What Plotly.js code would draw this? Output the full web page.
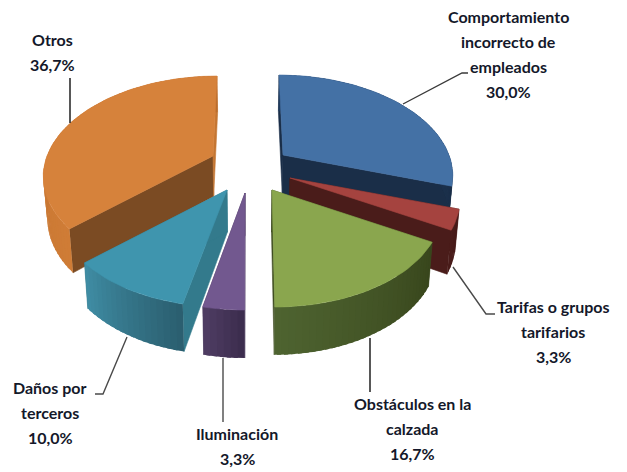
<!DOCTYPE html>
<html><head><meta charset="utf-8">
<script src="https://cdn.plot.ly/plotly-3.0.1.min.js"></script>
<style>html,body{margin:0;padding:0;background:#fff}#c{width:627px;height:472px}</style>
</head><body><div id="c"></div>
<script>
// Data
const categories = ["Comportamiento incorrecto de empleados","Tarifas o grupos tarifarios","Obstáculos en la calzada","Iluminación","Daños por terceros","Otros"];
const values = [30.0,3.3,16.7,3.3,10.0,36.7];
const labelLines = [["Comportamiento","incorrecto de","empleados"],["Tarifas o grupos","tarifarios"],["Obstáculos en la","calzada"],["Iluminación"],["Daños por","terceros"],["Otros"]];
// Styles
const topColors = ["#4471a5","#a5433f","#8aa64e","#72588f","#3f95ae","#d6823b"];
const cutStart = ["#1a2e48","#4a1c1a","#3f4d22","#46365a","#337a8c","#7b4b23"];
const cutEnd   = ["#1a2e48","#4a1c1a","#3f4d22","#46365a","#337a8c","#c47632"];
const rimFrom  = ["#1f3a5c","#4a1c1a","#4e6330","#4e3c62","#3f8ca3","#cf7c36"];
const rimTo    = ["#1a2e48","#451a18","#38461c","#3c2d4e","#2b5f70","#b96d2d"];
// Layout of the exploded slices (screen px of each slice's tip) and projection constants
const tipX = [283,290,272,245,227,213];
const tipY = [155,178,190,193,190,156];
const X0 = 248, A = 166, B = 95, C = 0.188;
const paintOrder = [5,0,1,2,3,4];
const labelX = [508,553,412,237,50,52];
const labelY = [16,306,403,433,387,39];
const LINE = 25.3;
const leaders = [
 {x:[403,462,468],y:[104,73,73],c:"#3a3a3a"},
 {x:[453,486,495],y:[267,314,314],c:"#4a4a4a"},
 {x:[370,370],y:[338,392],c:"#111"},
 {x:[223,223],y:[358,422],c:"#4a4a4a"},
 {x:[127,103,95],y:[337,394,394],c:"#4a4a4a"},
 {x:[70,70],y:[78,123],c:"#111"}
];

function hex(c){return [1,3,5].map(i=>parseInt(c.substr(i,2),16));}
function mix(a,b,t){const p=hex(a),q=hex(b);return "rgb("+p.map((v,i)=>Math.round(v+(q[i]-v)*t)).join(",")+")";}
function rim(i,deg){
  const t=deg*Math.PI/180,u=Math.sin(t),v=-Math.cos(t),k=1/(1-C*v);
  return [tipX[i]+A*u*k+(tipX[i]-X0)*0.114*v, tipY[i]+B*v*k];
}
function low(p){return [X0+(p[0]-X0)*0.98, p[1]+40+0.05*(p[1]-150)];}
function poly(pts,color,lw){
  const c=pts.concat([pts[0]]);
  return {type:"scatter",mode:"lines",x:c.map(p=>p[0]),y:c.map(p=>p[1]),fill:"toself",fillcolor:color,
    line:{color:color,width:lw===undefined?0.6:lw},hoverinfo:"skip",showlegend:false};
}
const total = values.reduce((a,b)=>a+b,0);
let acc=0; const startDeg=[],endDeg=[];
values.forEach(v=>{startDeg.push(acc/total*360);acc+=v;endDeg.push(acc/total*360);});

const traces=[];
paintOrder.forEach(i=>{
  const a=startDeg[i],b=endDeg[i],tip=[tipX[i],tipY[i]];
  const n=Math.max(4,Math.round((b-a)/2));
  const ang=[];for(let k=0;k<=n;k++)ang.push(a+(b-a)*k/n);
  // cut faces
  [[a,cutStart[i]],[b,cutEnd[i]]].forEach(e=>{const r=rim(i,e[0]);traces.push(poly([tip,r,low(r),low(tip)],e[1]));});
  // outer wall: strips overlap their neighbour so no seams show
  for(let k=0;k<n;k++){
    const p=rim(i,ang[k]),q=rim(i,Math.min(b,ang[k+1]+(b-a)/n*0.6));
    const tt=n>1?(n-1-k)/(n-1):0;
    traces.push(poly([p,q,low(q),low(p)],mix(rimFrom[i],rimTo[i],(i===5||i===0)?1-tt:tt),0));
  }
  // top face
  traces.push(poly([tip].concat(ang.map(d=>rim(i,d))),topColors[i]));
});
leaders.forEach(l=>traces.push({type:"scatter",mode:"lines",x:l.x,y:l.y,line:{color:l.c,width:1.4},hoverinfo:"skip",showlegend:false}));

const annotations=[];
categories.forEach((name,i)=>{
  const lines=labelLines[i].concat([values[i].toFixed(1).replace(".",",")+"%"]);
  lines.forEach((t,j)=>annotations.push({x:labelX[i],y:labelY[i]+j*LINE,xref:"x",yref:"y",text:"<b>"+t+"</b>",showarrow:false,
    xanchor:"center",yanchor:"middle",font:{family:"Lato, sans-serif",size:16,color:"#14182a"}}));
});
Plotly.newPlot("c",traces,{
  width:627,height:472,margin:{l:0,r:0,t:0,b:0},paper_bgcolor:"#fff",plot_bgcolor:"#fff",showlegend:false,
  xaxis:{range:[0,627],visible:false,fixedrange:true},
  yaxis:{range:[472,0],visible:false,fixedrange:true},
  annotations:annotations
},{staticPlot:true,displayModeBar:false});
</script></body></html>
